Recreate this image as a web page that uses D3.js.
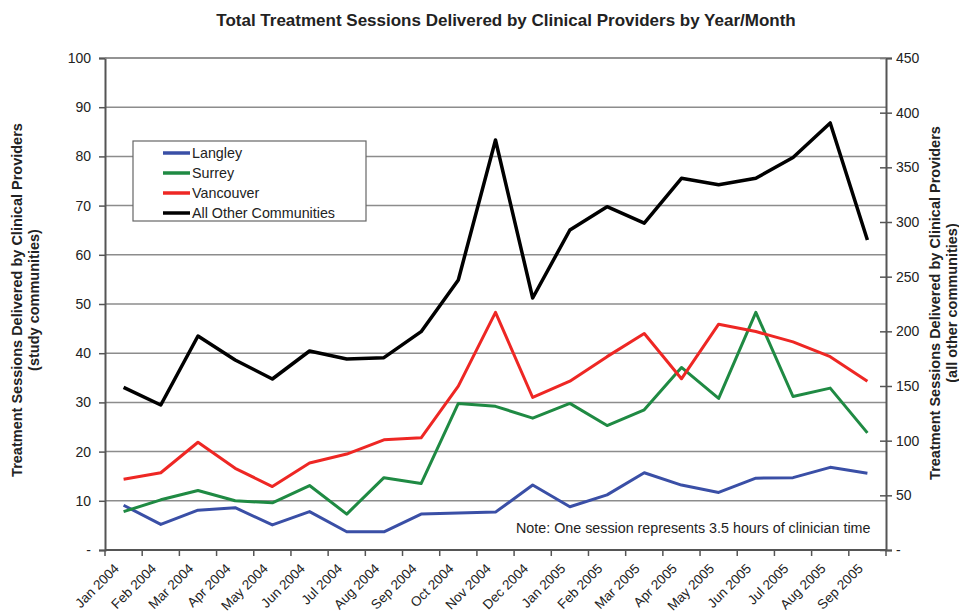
<!DOCTYPE html>
<html>
<head>
<meta charset="utf-8">
<script src="https://d3js.org/d3.v7.min.js"></script>
<style>
  body { margin: 0; background: #fff; }
  text { font-family: "Liberation Sans", Arial, sans-serif; fill: #222; }
</style>
</head>
<body>
<svg id="vis" width="959" height="616"></svg>
<script>
    // categories and values
    var months = ["Jan 2004","Feb 2004","Mar 2004","Apr 2004","May 2004","Jun 2004","Jul 2004",
                  "Aug 2004","Sep 2004","Oct 2004","Nov 2004","Dec 2004","Jan 2005","Feb 2005",
                  "Mar 2005","Apr 2005","May 2005","Jun 2005","Jul 2005","Aug 2005","Sep 2005"];
    var langley   = [9.1, 5.2, 8.1, 8.6, 5.1, 7.8, 3.7, 3.7, 7.3, 7.5, 7.7, 13.2, 8.8, 11.2, 15.7, 13.2, 11.7, 14.6, 14.7, 16.8, 15.6];
    var surrey    = [7.8, 10.2, 12.1, 10.0, 9.6, 13.1, 7.3, 14.7, 13.5, 29.8, 29.2, 26.8, 29.8, 25.3, 28.5, 37.1, 30.8, 48.3, 31.2, 32.9, 23.8];
    var vancouver = [14.4, 15.7, 21.9, 16.6, 12.9, 17.7, 19.5, 22.4, 22.8, 33.3, 48.3, 31.0, 34.3, 39.3, 44.0, 34.8, 45.9, 44.4, 42.3, 39.3, 34.3];
    var allOther  = [148.8, 132.6, 195.7, 173.8, 156.4, 182, 174.7, 175.9, 199.7, 247, 375, 230.5, 292.7, 314, 299, 340, 334, 340, 359, 390.6, 283.5];
    var leftTicks  = [0, 10, 20, 30, 40, 50, 60, 70, 80, 90, 100];
    var rightTicks = [0, 50, 100, 150, 200, 250, 300, 350, 400, 450];
    var seriesNames = ["Langley", "Surrey", "Vancouver", "All Other Communities"];
    var color = ["#3a4fa6", "#1f8a43", "#ee2724", "#000000"];

    var pLeft = 105, pRight = 886, pTop = 58, pBottom = 550;
    var svg = d3.select("#vis");

    var x = d3.scaleBand().domain(months).range([pLeft, pRight]).padding(0);
    var yL = d3.scaleLinear().domain([0, 100]).range([pBottom, pTop]);
    var yR = d3.scaleLinear().domain([0, 450]).range([pBottom, pTop]);

    // gridlines
    svg.append("g")
      .selectAll("line")
      .data(leftTicks.filter(function(d) { return d > 0; }))
      .enter().append("line")
        .attr("x1", pLeft).attr("x2", pRight)
        .attr("y1", function(d) { return yL(d); })
        .attr("y2", function(d) { return yL(d); })
        .attr("stroke", "#8c8c8c")
        .attr("stroke-width", 1.5);

    // left axis
    var gL = svg.append("g")
        .attr("transform", "translate(" + pLeft + ",0)")
        .call(d3.axisLeft(yL).tickValues(leftTicks).tickSize(6).tickPadding(8)
              .tickFormat(function(d) { return d === 0 ? "-" : d; }));
    gL.selectAll("text").style("font-size", "14px").attr("fill", "#333");

    // right axis
    var gR = svg.append("g")
        .attr("transform", "translate(" + pRight + ",0)")
        .call(d3.axisRight(yR).tickValues(rightTicks).tickSize(6).tickPadding(4)
              .tickFormat(function(d) { return d === 0 ? "-" : d; }));
    gR.selectAll(".tick line").attr("x1", -6);
    gR.selectAll("text").style("font-size", "14px").attr("fill", "#333");

    // bottom axis, ticks between categories
    var gB = svg.append("g")
        .attr("transform", "translate(0," + pBottom + ")")
        .call(d3.axisBottom(x).tickSize(0).tickPadding(0));
    gB.select(".domain").remove();
    gB.selectAll("text")
        .style("font-size", "13.5px")
        .attr("fill", "#333")
        .attr("text-anchor", "end")
        .attr("transform", "translate(-7,16) rotate(-45)")
        .attr("dy", "0.35em")
        .attr("y", 0);
    svg.append("g")
      .selectAll("line")
      .data(months.map(function(m) { return x(m); }).concat([x.range()[1]]))
      .enter().append("line")
        .attr("x1", function(d) { return d; }).attr("x2", function(d) { return d; })
        .attr("y1", pBottom).attr("y2", pBottom + 6)
        .attr("stroke", "#555").attr("stroke-width", 1.5);

    // frame
    svg.append("line").attr("x1", pLeft).attr("x2", pRight).attr("y1", pTop).attr("y2", pTop)
        .attr("stroke", "#8c8c8c").attr("stroke-width", 1.5);
    svg.append("line").attr("x1", pLeft).attr("x2", pRight).attr("y1", pBottom).attr("y2", pBottom)
        .attr("stroke", "#555").attr("stroke-width", 2);
    svg.selectAll(".domain").attr("stroke", "#555").attr("stroke-width", 2);
    svg.selectAll(".tick line").attr("stroke", "#555").attr("stroke-width", 1.5);

    // lines
    var cx = function(d, i) { return x(months[i]) + x.bandwidth() / 2; };
    var lineL = d3.line().x(cx).y(function(d) { return yL(d); });
    var lineR = d3.line().x(cx).y(function(d) { return yR(d); });

    [langley, surrey, vancouver].forEach(function(s, k) {
        svg.append("path").datum(s)
            .attr("d", lineL)
            .attr("fill", "none")
            .attr("stroke", color[k])
            .attr("stroke-width", 3)
            .attr("stroke-linejoin", "round");
    });
    svg.append("path").datum(allOther)
        .attr("d", lineR)
        .attr("fill", "none")
        .attr("stroke", color[3])
        .attr("stroke-width", 3.5)
        .attr("stroke-linejoin", "round");

    // legend
    var leg = svg.append("g").attr("transform", "translate(133,141)");
    leg.append("rect").attr("width", 233).attr("height", 80)
        .attr("fill", "#fff").attr("stroke", "#666").attr("stroke-width", 1.2);
    seriesNames.forEach(function(n, i) {
        leg.append("line").attr("x1", 30).attr("x2", 57)
            .attr("y1", 12 + i * 20).attr("y2", 12 + i * 20)
            .attr("stroke", color[i]).attr("stroke-width", 3.5);
        leg.append("text").attr("x", 59).attr("y", 12 + i * 20).attr("dy", "0.35em")
            .style("font-size", "14.3px").text(n);
    });

    // note
    svg.append("text").attr("x", 516).attr("y", 533)
        .style("font-size", "14.3px").text("Note: One session represents 3.5 hours of clinician time");

    // title
    svg.append("text").attr("x", 506).attr("y", 26).attr("text-anchor", "middle")
        .style("font-size", "17px").style("font-weight", "bold")
        .text("Total Treatment Sessions Delivered by Clinical Providers by Year/Month");

    // axis titles
    function axisTitle(xpos, ypos, lines) {
        var t = svg.append("text")
            .attr("transform", "translate(" + xpos + "," + ypos + ") rotate(-90)")
            .attr("text-anchor", "middle")
            .style("font-size", "14.5px").style("font-weight", "bold");
        lines.forEach(function(l, i) {
            t.append("tspan").attr("x", 0).attr("dy", i === 0 ? 0 : "1.2em").text(l);
        });
    }
    axisTitle(22, 300, ["Treatment Sessions Delivered by Clinical Providers", "(study communities)"]);
    axisTitle(940, 303, ["Treatment Sessions Delivered by Clinical Providers", "(all other communities)"]);
</script>
</body>
</html>
